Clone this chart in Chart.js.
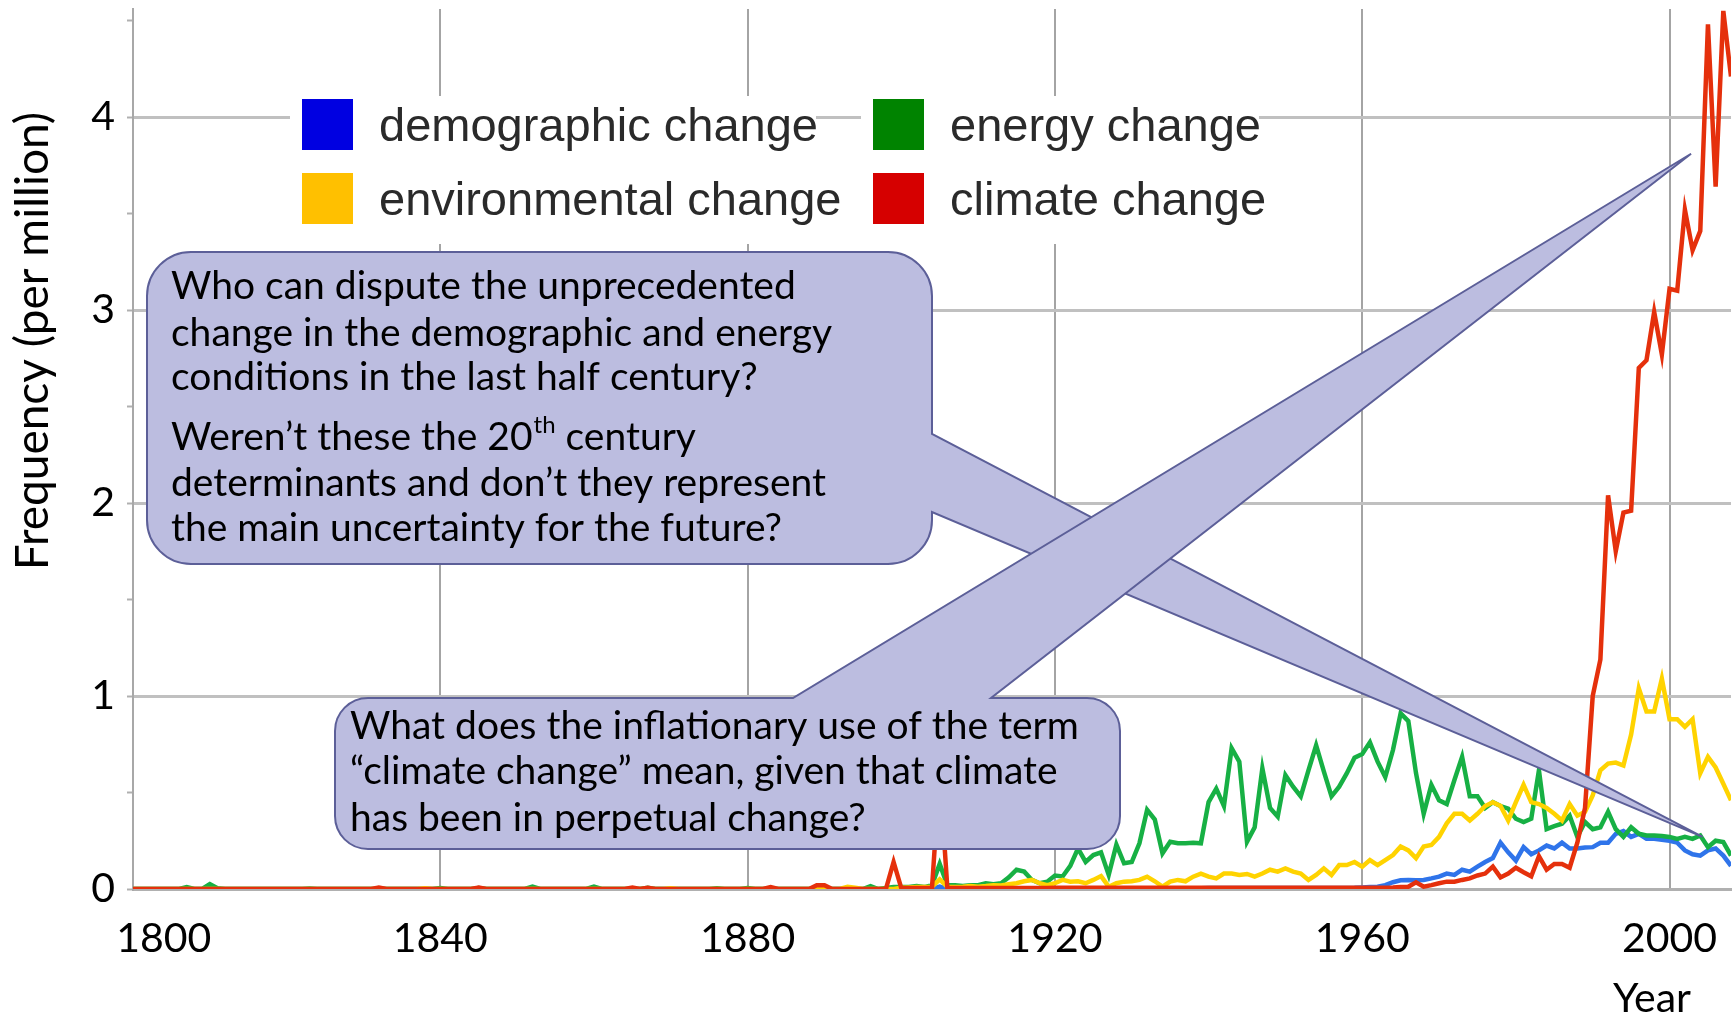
<!DOCTYPE html>
<html>
<head>
<meta charset="utf-8">
<script src="https://cdn.jsdelivr.net/npm/chart.js@4.4.0/dist/chart.umd.min.js"></script>
<style>
  html, body { margin: 0; padding: 0; background: #fff; }
</style>
</head>
<body>
<canvas id="ngram" width="1733" height="1015"></canvas>
<script>
// one value per year, 1800..2008 (frequency per million)
const years = Array.from({ length: 209 }, (_, i) => 1800 + i);

const demographic = [
  0, 0, 0, 0, 0, 0, 0, 0, 0, 0,
  0, 0, 0, 0, 0, 0, 0, 0, 0, 0,
  0, 0, 0, 0, 0, 0, 0, 0, 0, 0,
  0, 0, 0, 0, 0, 0, 0, 0, 0, 0,
  0, 0, 0, 0, 0, 0, 0, 0, 0, 0,
  0, 0, 0, 0, 0, 0, 0, 0, 0, 0,
  0, 0, 0, 0, 0, 0, 0, 0, 0, 0,
  0, 0, 0, 0, 0, 0, 0, 0, 0, 0,
  0, 0, 0, 0, 0, 0, 0, 0, 0, 0,
  0, 0, 0, 0, 0, 0, 0, 0, 0, 0,
  0, 0, 0, 0, 0, 0.012, 0, 0, 0, 0,
  0.002, 0.002, 0.002, 0.002, 0.002, 0.002, 0.002, 0.002, 0.002, 0.002,
  0.004, 0.004, 0.004, 0.004, 0.004, 0.004, 0.004, 0.004, 0.004, 0.004,
  0.004, 0.004, 0.004, 0.004, 0.004, 0.004, 0.004, 0.004, 0.004, 0.004,
  0.005, 0.005, 0.005, 0.005, 0.005, 0.005, 0.005, 0.005, 0.005, 0.005,
  0.005, 0.005, 0.005, 0.005, 0.005, 0.005, 0.005, 0.005, 0.005, 0.006,
  0.008, 0.01, 0.012, 0.02, 0.035, 0.045, 0.047, 0.045, 0.047, 0.055,
  0.064, 0.08, 0.073, 0.10, 0.09, 0.116, 0.14, 0.16, 0.24, 0.19,
  0.147, 0.217, 0.18, 0.20, 0.225, 0.21, 0.24, 0.21, 0.21, 0.215,
  0.217, 0.24, 0.24, 0.286, 0.30, 0.27, 0.286, 0.26, 0.26, 0.255,
  0.25, 0.24, 0.20, 0.18, 0.173, 0.20, 0.21, 0.173, 0.12
];

const energy = [
  0, 0, 0, 0, 0, 0, 0, 0.01, 0, 0,
  0.025, 0.004, 0, 0, 0, 0, 0, 0, 0, 0,
  0, 0, 0, 0.003, 0, 0, 0, 0, 0, 0,
  0, 0, 0, 0, 0, 0, 0, 0, 0, 0,
  0.005, 0, 0, 0, 0, 0.005, 0, 0, 0, 0,
  0, 0, 0.012, 0, 0, 0, 0, 0, 0, 0,
  0.012, 0, 0, 0, 0, 0, 0, 0.006, 0, 0,
  0, 0, 0, 0, 0, 0, 0.004, 0, 0, 0,
  0.005, 0, 0, 0, 0, 0, 0, 0, 0, 0.004,
  0, 0, 0, 0, 0, 0, 0.015, 0, 0.005, 0.01,
  0.01, 0.01, 0.015, 0.01, 0.02, 0.13, 0.02, 0.02, 0.015, 0.02,
  0.02, 0.03, 0.025, 0.03, 0.06, 0.1, 0.09, 0.047, 0.03, 0.038,
  0.07, 0.065, 0.12, 0.21, 0.14, 0.176, 0.19, 0.073, 0.23, 0.133,
  0.14, 0.237, 0.41, 0.36, 0.185, 0.245, 0.237, 0.237, 0.24, 0.237,
  0.45, 0.52, 0.43, 0.73, 0.66, 0.245, 0.32, 0.625, 0.42, 0.375,
  0.59, 0.53, 0.48, 0.615, 0.745, 0.61, 0.48, 0.53, 0.60, 0.68,
  0.70, 0.76, 0.66, 0.58, 0.72, 0.91, 0.87, 0.6, 0.39, 0.54,
  0.46, 0.44, 0.565, 0.685, 0.48, 0.48, 0.42, 0.45, 0.43, 0.416,
  0.364, 0.347, 0.364, 0.615, 0.31, 0.326, 0.338, 0.38, 0.27, 0.347,
  0.31, 0.32, 0.40, 0.31, 0.27, 0.32, 0.286, 0.277, 0.277, 0.275,
  0.27, 0.26, 0.27, 0.26, 0.277, 0.217, 0.25, 0.243, 0.173
];

const environmental = [
  0, 0, 0, 0, 0, 0, 0, 0, 0, 0,
  0, 0, 0, 0, 0, 0, 0, 0, 0, 0,
  0, 0, 0, 0, 0, 0, 0, 0, 0, 0,
  0, 0, 0, 0, 0, 0, 0, 0, 0.004, 0,
  0, 0, 0, 0, 0, 0, 0, 0, 0, 0,
  0, 0, 0, 0, 0, 0, 0, 0, 0, 0,
  0, 0, 0, 0, 0, 0, 0, 0, 0, 0,
  0.004, 0, 0, 0, 0, 0, 0, 0, 0, 0,
  0, 0, 0, 0, 0, 0, 0, 0, 0, 0,
  0, 0, 0, 0.012, 0.006, 0, 0, 0, 0, 0,
  0.006, 0.008, 0.01, 0.01, 0.012, 0.05, 0.012, 0.01, 0.012, 0.015,
  0.012, 0.015, 0.02, 0.018, 0.025, 0.03, 0.04, 0.047, 0.03, 0.02,
  0.03, 0.047, 0.038, 0.04, 0.03, 0.047, 0.067, 0.012, 0.03, 0.038,
  0.04, 0.047, 0.064, 0.04, 0.012, 0.038, 0.047, 0.04, 0.064, 0.08,
  0.064, 0.055, 0.08, 0.08, 0.073, 0.078, 0.064, 0.08, 0.10, 0.09,
  0.107, 0.09, 0.08, 0.047, 0.073, 0.107, 0.073, 0.124, 0.124, 0.14,
  0.116, 0.15, 0.124, 0.15, 0.176, 0.22, 0.20, 0.16, 0.22, 0.228,
  0.27, 0.34, 0.39, 0.39, 0.355, 0.39, 0.43, 0.45, 0.43, 0.355,
  0.45, 0.54, 0.45, 0.44, 0.42, 0.39, 0.355, 0.44, 0.38, 0.40,
  0.485, 0.615, 0.65, 0.655, 0.64, 0.80, 1.04, 0.92, 0.92, 1.09,
  0.88, 0.88, 0.84, 0.88, 0.60, 0.685, 0.63, 0.545, 0.46
];

const climate = [
  0, 0, 0, 0, 0, 0, 0, 0, 0, 0,
  0, 0, 0, 0, 0, 0, 0, 0, 0, 0,
  0, 0, 0, 0, 0, 0, 0, 0, 0, 0,
  0, 0, 0.008, 0, 0, 0, 0, 0, 0, 0,
  0, 0, 0, 0, 0, 0.008, 0, 0, 0, 0,
  0, 0, 0, 0, 0, 0, 0, 0, 0, 0,
  0, 0, 0, 0, 0, 0.008, 0, 0.006, 0, 0,
  0, 0, 0, 0, 0, 0, 0, 0, 0, 0,
  0, 0, 0, 0.01, 0, 0, 0, 0, 0, 0.02,
  0.02, 0, 0, 0, 0, 0, 0, 0, 0, 0.14,
  0.005, 0.005, 0.005, 0.005, 0.005, 0.6, 0.005, 0.005, 0.005, 0.005,
  0.005, 0.005, 0.005, 0.005, 0.005, 0.005, 0.005, 0.005, 0.005, 0.005,
  0.006, 0.006, 0.006, 0.006, 0.006, 0.006, 0.006, 0.006, 0.006, 0.006,
  0.006, 0.006, 0.006, 0.006, 0.006, 0.006, 0.006, 0.006, 0.006, 0.006,
  0.006, 0.006, 0.006, 0.006, 0.006, 0.006, 0.006, 0.006, 0.006, 0.006,
  0.006, 0.006, 0.006, 0.006, 0.006, 0.006, 0.006, 0.006, 0.006, 0.006,
  0.006, 0.006, 0.007, 0.007, 0.008, 0.01, 0.012, 0.035, 0.012, 0.02,
  0.03, 0.038, 0.038, 0.047, 0.055, 0.07, 0.08, 0.116, 0.06, 0.08,
  0.11, 0.087, 0.066, 0.17, 0.10, 0.13, 0.13, 0.11, 0.24, 0.42,
  1.0, 1.19, 2.04, 1.75, 1.95, 1.96, 2.70, 2.74, 2.99, 2.77,
  3.11, 3.10, 3.52, 3.31, 3.41, 4.48, 3.64, 4.55, 4.21
];

const seriesNames = ['demographic change', 'energy change', 'environmental change', 'climate change'];
const seriesData = [demographic, energy, environmental, climate];
const lineColors = ['#2f74ea', '#17b044', '#ffd300', '#e5300c'];
const legendColors = ['#0000e1', '#008300', '#ffc000', '#d60000'];
const drawOrder = [3, 2, 1, 0]; // climate change on top

const xTickStep = 40;
const yTickStep = 0.5;

const questionTop = [
  'Who can dispute the unprecedented',
  'change in the demographic and energy',
  'conditions in the last half century?',
  ['Weren’t these the 20', 'th', ' century'],
  'determinants and don’t they represent',
  'the main uncertainty for the future?'
];
const questionBottom = [
  'What does the inflationary use of the term',
  '“climate change” mean, given that climate',
  'has been in perpetual change?'
];
// where each callout points, in data units (year, per million)
const pointerTop = [2004.3, 0.27];
const pointerBottom = [2002.8, 3.81];

const textFont = 'Lato, "Open Sans", sans-serif';
const bubbleFill = '#bcbde0';
const bubbleLine = '#5c5f98';

function bubblePath(ctx, x, y, w, h, r, side, b1, b2, tip) {
  ctx.beginPath();
  ctx.moveTo(x + r, y);
  if (side === 'top') {
    ctx.lineTo(b1, y);
    ctx.lineTo(tip[0], tip[1]);
    ctx.lineTo(b2, y);
  }
  ctx.lineTo(x + w - r, y);
  ctx.arcTo(x + w, y, x + w, y + r, r);
  if (side === 'right') {
    ctx.lineTo(x + w, b1);
    ctx.lineTo(tip[0], tip[1]);
    ctx.lineTo(x + w, b2);
  }
  ctx.lineTo(x + w, y + h - r);
  ctx.arcTo(x + w, y + h, x + w - r, y + h, r);
  ctx.lineTo(x + r, y + h);
  ctx.arcTo(x, y + h, x, y + h - r, r);
  ctx.lineTo(x, y + r);
  ctx.arcTo(x, y, x + r, y, r);
  ctx.closePath();
  ctx.fillStyle = bubbleFill;
  ctx.fill();
  ctx.strokeStyle = bubbleLine;
  ctx.lineWidth = 2;
  ctx.stroke();
}

function drawLines(ctx, lines, x, centers, size) {
  ctx.fillStyle = '#000';
  ctx.textAlign = 'left';
  ctx.textBaseline = 'middle';
  lines.forEach((line, i) => {
    ctx.font = size + 'px ' + textFont;
    if (typeof line === 'string') {
      ctx.fillText(line, x, centers[i]);
      return;
    }
    // line with a superscript part
    let cx = x;
    ctx.fillText(line[0], cx, centers[i]);
    cx += ctx.measureText(line[0]).width;
    ctx.font = Math.round(size * 0.62) + 'px ' + textFont;
    ctx.fillText(line[1], cx + 1, centers[i] - size * 0.3);
    cx += ctx.measureText(line[1]).width + 1;
    ctx.font = size + 'px ' + textFont;
    ctx.fillText(line[2], cx, centers[i]);
  });
}

const overlay = {
  id: 'overlay',
  afterDraw(chart) {
    const ctx = chart.ctx;
    const xs = chart.scales.x, ys = chart.scales.y;
    ctx.save();

    // axis titles
    ctx.fillStyle = '#000';
    ctx.font = '46px ' + textFont;
    ctx.textAlign = 'center';
    ctx.textBaseline = 'middle';
    ctx.save();
    ctx.translate(33, 341);
    ctx.rotate(-Math.PI / 2);
    ctx.fillText('Frequency (per million)', 0, 0);
    ctx.restore();
    ctx.font = '41px ' + textFont;
    ctx.textBaseline = 'alphabetic';
    ctx.fillText('Year', 1652, 1012);

    // legend, two rows of two
    const colX = [302, 873], rowY = [99, 173], sq = 51;
    ctx.font = '47px "Liberation Sans", Arial, sans-serif';
    seriesNames.forEach((name, i) => {
      const sx = colX[i % 2], sy = rowY[Math.floor(i / 2)];
      const tw = ctx.measureText(name).width;
      ctx.fillStyle = '#fff';
      ctx.fillRect(sx - 12, sy - 3, sq + 26 + tw + 10, 74);
      ctx.fillStyle = legendColors[i];
      ctx.fillRect(sx, sy, sq, sq);
      ctx.fillStyle = '#2a2a2a';
      ctx.textAlign = 'left';
      ctx.textBaseline = 'alphabetic';
      ctx.fillText(name, sx + sq + 26, sy + 42);
    });

    // callouts
    const tipA = [xs.getPixelForValue(pointerTop[0]), ys.getPixelForValue(pointerTop[1])];
    bubblePath(ctx, 147, 252, 785, 312, 44, 'right', 434, 512, tipA);
    drawLines(ctx, questionTop, 171, [286, 333, 377, 437, 483, 528], 39);

    const tipB = [xs.getPixelForValue(pointerBottom[0]), ys.getPixelForValue(pointerBottom[1])];
    bubblePath(ctx, 335, 698, 785, 151, 33, 'top', 793, 991, tipB);
    drawLines(ctx, questionBottom, 350, [726, 771, 818], 39);

    ctx.restore();
  }
};

new Chart(document.getElementById('ngram'), {
  type: 'line',
  data: {
    labels: years,
    datasets: seriesNames.map((name, i) => ({
      label: name,
      data: seriesData[i],
      borderColor: lineColors[i],
      borderWidth: 4.5,
      pointRadius: 0,
      tension: 0,
      order: drawOrder[i]
    }))
  },
  options: {
    responsive: false,
    animation: false,
    devicePixelRatio: 1,
    layout: { padding: { top: 9, right: 2, left: 0, bottom: 0 } },
    plugins: { legend: { display: false }, tooltip: { enabled: false } },
    scales: {
      x: {
        type: 'linear',
        min: 1800,
        max: 2008,
        afterFit(scale) {
          scale.height = 126;
          scale.paddingLeft = 0;
          scale.paddingRight = 0;
        },
        border: { display: true, color: '#b0b0b0', width: 3 },
        grid: {
          color: c => (c.tick && c.tick.value > 1800 ? '#a4a4a4' : 'rgba(0,0,0,0)'),
          lineWidth: 2,
          drawTicks: false
        },
        ticks: {
          stepSize: xTickStep,
          includeBounds: false,
          autoSkip: false,
          maxRotation: 0,
          padding: 25,
          color: '#000',
          font: { family: textFont, size: 41 },
          // the first year label sits a little right of the axis, as in the original
          callback: (v, i) => (v % xTickStep !== 0 ? '' : (i === 0 ? '\u2002\u2002\u2002' + v : String(v)))
        }
      },
      y: {
        min: 0,
        max: 4.56,
        afterFit(scale) {
          scale.width = 133;
          scale.paddingTop = 0;
          scale.paddingBottom = 0;
        },
        border: { display: true, color: '#a8a8a8', width: 2 },
        grid: {
          color: c => (c.tick && c.tick.value % 1 === 0 ? '#c0c0c0' : 'rgba(0,0,0,0)'),
          lineWidth: 3,
          tickColor: '#b0b0b0',
          tickLength: 6,
          tickWidth: 2
        },
        ticks: {
          stepSize: yTickStep,
          includeBounds: false,
          padding: 12,
          color: '#000',
          font: { family: textFont, size: 41 },
          callback: v => (v % 1 === 0 ? String(v) : '')
        }
      }
    }
  },
  plugins: [overlay]
});
</script>
</body>
</html>
